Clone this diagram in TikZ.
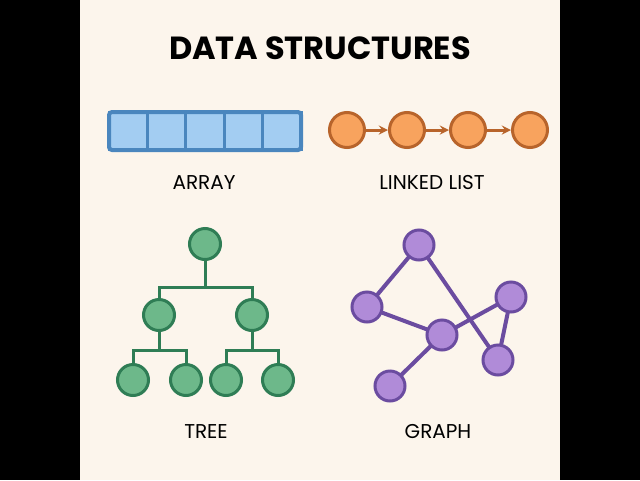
\documentclass[tikz,border=0pt]{standalone}
\usepackage{fontspec}
\setmainfont{Poppins}
\definecolor{bg}{HTML}{FCF5EC}
\definecolor{arrfill}{HTML}{A3CDF2}
\definecolor{arrline}{HTML}{4A86BE}
\definecolor{llfill}{HTML}{F8A35E}
\definecolor{llline}{HTML}{B8642B}
\definecolor{trfill}{HTML}{6DB88A}
\definecolor{trline}{HTML}{2F7D55}
\definecolor{grfill}{HTML}{B08BD8}
\definecolor{grline}{HTML}{6B4CA0}
\begin{document}
\begin{tikzpicture}[x=1pt,y=-1pt,
	lbl/.style={font=\fontsize{20}{24}\selectfont},
	llnode/.style={circle, draw=llline, fill=llfill, line width=3pt, minimum size=35pt, inner sep=0pt},
	trnode/.style={circle, draw=trline, fill=trfill, line width=3pt, minimum size=31pt, inner sep=0pt},
	grnode/.style={circle, draw=grline, fill=grfill, line width=3pt, minimum size=30pt, inner sep=0pt},
	cell/.style={rectangle, draw=arrline, fill=arrfill, line width=3pt, minimum width=38.4pt, minimum height=37pt, inner sep=0pt}]
	\fill[black] (0,0) rectangle (640,480);
	\fill[bg] (80,0) rectangle (560,480);
	\node[font=\fontsize{32}{38}\selectfont\bfseries] (title) at (320,48) {DATA STRUCTURES};
	% array
	\foreach \i in {0,...,4}
		\node[cell] (c\i) at (128.2+38.4*\i,131) {};
	\draw[arrline, line width=4pt, rounded corners=3pt] (109,112) rectangle (301,150);
	\node[lbl] (arr) at (204,183) {ARRAY};
	% linked list
	\node[llnode] (l1) at (347,130) {};
	\node[llnode] (l2) at (407,130) {};
	\node[llnode] (l3) at (468,130) {};
	\node[llnode] (l4) at (530,130) {};
	\foreach \a/\b in {l1/l2, l2/l3, l3/l4}
		\draw[->, >=stealth, llline, line width=3pt] (\a) -- (\b);
	\node[lbl] (ll) at (432,183) {LINKED LIST};
	% tree
	\node[trnode] (root) at (205,244) {};
	\node[trnode] (m1) at (159,315) {};
	\node[trnode] (m2) at (252,315) {};
	\node[trnode] (t1) at (133,380) {};
	\node[trnode] (t2) at (186,380) {};
	\node[trnode] (t3) at (226,380) {};
	\node[trnode] (t4) at (278,380) {};
	\begin{scope}[trline, line width=3pt]
		\draw (root) -- ++(0,43) -| (m1);
		\draw (root) ++(0,43) -| (m2);
		\draw (m1) -- ++(0,35) -| (t1);
		\draw (m1) ++(0,35) -| (t2);
		\draw (m2) -- ++(0,35) -| (t3);
		\draw (m2) ++(0,35) -| (t4);
	\end{scope}
	\node[lbl] (tr) at (206,432) {TREE};
	% graph
	\begin{scope}[grline, line width=4pt]
		\draw (419,245) -- (367,307);
		\draw (419,245) -- (498,360);
		\draw (367,307) -- (442,335);
		\draw (442,335) -- (511,297);
		\draw (511,297) -- (498,360);
		\draw (442,335) -- (390,386);
	\end{scope}
	\node[grnode] (g1) at (419,245) {};
	\node[grnode] (g2) at (367,307) {};
	\node[grnode] (g3) at (442,335) {};
	\node[grnode] (g4) at (511,297) {};
	\node[grnode] (g5) at (498,360) {};
	\node[grnode] (g6) at (390,386) {};
	\node[lbl] (gr) at (438,432) {GRAPH};
\end{tikzpicture}
\end{document}
